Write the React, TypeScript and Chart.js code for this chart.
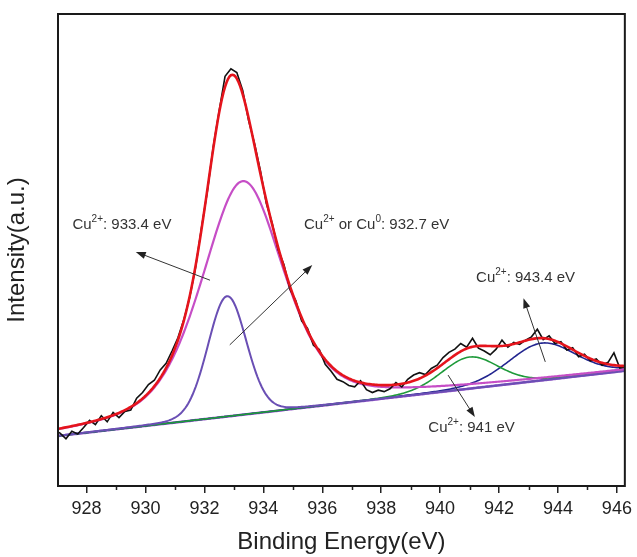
import React, { useEffect, useRef } from "react";
import { Chart, registerables } from "chart.js";

Chart.register(...registerables);

const FONT = "'Liberation Sans', Arial, Helvetica, sans-serif";

// x axis
const xMin = 927.03;
const xMax = 946.27;
const xMajorTicks = [928, 930, 932, 934, 936, 938, 940, 942, 944, 946];
const xMinorTicks = [929, 931, 933, 935, 937, 939, 941, 943, 945];
const yMin = 0;
const yMax = 100;

// measured spectrum (black)
const measuredStart = 926.9;
const measuredStep = 0.2;
const measuredIntensity = [
  11.8, 11.2, 10.0, 11.6, 11.0, 12.4, 13.9, 13.0, 14.9, 13.6,
  15.6, 14.5, 15.8, 16.1, 18.6, 19.8, 21.5, 22.4, 24.6, 26.0,
  28.6, 31.4, 35.2, 40.0, 46.3, 54.7, 62.4, 71.9, 79.5, 86.8,
  88.4, 87.6, 83.8, 77.4, 72.6, 66.8, 59.9, 55.7, 50.1, 46.9,
  41.7, 39.3, 35.0, 33.4, 29.8, 28.9, 25.8, 24.3, 22.6, 22.1,
  21.3, 21.0, 22.3, 20.4, 19.8, 20.3, 20.0, 20.6, 21.9, 21.0,
  22.6, 23.5, 24.0, 23.6, 24.9, 25.6, 27.2, 28.3, 29.0, 30.2,
  29.4, 31.3, 29.2, 28.6, 27.8, 29.0, 30.9, 29.4, 30.4, 30.0,
  30.9, 31.6, 33.2, 31.0, 31.8, 30.2, 30.6, 28.8, 29.3, 27.4,
  27.9, 26.5, 26.9, 25.6, 26.2, 28.2, 25.0, 25.3,
];

// linear background (value at xMin and at xMax)
const backgroundLeft = 10.6;
const backgroundRight = 24.4;

// fitted peak components
const peakNames = ["Cu2+ 933.4 eV", "Cu2+ or Cu0 932.7 eV", "Cu2+ 941 eV", "Cu2+ 943.4 eV"];
const peakCenters = [933.3, 932.77, 941.0, 943.45];
const peakHeights = [49.5, 25.5, 6.7, 7.9];
const peakFwhm = [3.3, 1.55, 2.3, 2.7];
const peakLorentz = [0.45, 0.1, 0.2, 0.2];
const peakColors = ["#c64ec6", "#6a4fb4", "#1e9a3a", "#22258f"];
const backgroundColor = "#9656c8";
const envelopeColor = "#e5141c";

const fitStart = 926.9;
const fitEnd = 946.4;
const fitStep = 0.05;

// annotations (data coordinates)
type Seg = { t: string; sup?: boolean };
const annotations: { segs: Seg[]; x: number; y: number; from: [number, number]; to: [number, number] }[] = [
  { segs: [{ t: "Cu" }, { t: "2+", sup: true }, { t: ": 933.4 eV" }], x: 927.52, y: 55.3, from: [932.19, 43.6], to: [929.67, 49.6] },
  { segs: [{ t: "Cu" }, { t: "2+", sup: true }, { t: " or Cu" }, { t: "0", sup: true }, { t: ": 932.7 eV" }], x: 935.38, y: 55.3, from: [932.86, 29.9], to: [935.66, 46.8] },
  { segs: [{ t: "Cu" }, { t: "2+", sup: true }, { t: ": 943.4 eV" }], x: 941.22, y: 44.1, from: [943.57, 26.3], to: [942.83, 39.8] },
  { segs: [{ t: "Cu" }, { t: "2+", sup: true }, { t: ": 941 eV" }], x: 939.6, y: 12.3, from: [940.27, 23.5], to: [941.18, 14.6] },
];

function background(x: number) {
  return backgroundLeft + ((backgroundRight - backgroundLeft) * (x - xMin)) / (xMax - xMin);
}
function peak(i: number, x: number) {
  const d = x - peakCenters[i];
  const w = peakFwhm[i];
  const g = Math.exp((-4 * Math.LN2 * d * d) / (w * w));
  const l = 1 / (1 + (4 * d * d) / (w * w));
  return peakHeights[i] * ((1 - peakLorentz[i]) * g + peakLorentz[i] * l);
}

const framePlugin = {
  id: "frame",
  afterDraw(chart: any) {
    const { ctx, chartArea } = chart;
    const xs = chart.scales.x;
    ctx.save();
    ctx.strokeStyle = "#222";
    ctx.lineWidth = 1.5;
    ctx.beginPath();
    for (const v of xMinorTicks) {
      const px = Math.round(xs.getPixelForValue(v)) + 0.5;
      ctx.moveTo(px, chartArea.bottom);
      ctx.lineTo(px, chartArea.bottom + 4);
    }
    ctx.stroke();
    ctx.lineWidth = 2;
    ctx.strokeStyle = "#1a1a1a";
    ctx.strokeRect(chartArea.left, chartArea.top, chartArea.right - chartArea.left, chartArea.bottom - chartArea.top);
    ctx.restore();
  },
};

const annotationPlugin = {
  id: "notes",
  afterDatasetsDraw(chart: any) {
    const { ctx } = chart;
    const xs = chart.scales.x;
    const ys = chart.scales.y;
    ctx.save();
    for (const a of annotations) {
      const fx = xs.getPixelForValue(a.from[0]);
      const fy = ys.getPixelForValue(a.from[1]);
      const tx = xs.getPixelForValue(a.to[0]);
      const ty = ys.getPixelForValue(a.to[1]);
      const ang = Math.atan2(ty - fy, tx - fx);
      const head = 10;
      const hw = 3.6;
      ctx.strokeStyle = "#333";
      ctx.fillStyle = "#222";
      ctx.lineWidth = 1;
      ctx.beginPath();
      ctx.moveTo(fx, fy);
      ctx.lineTo(tx - Math.cos(ang) * head * 0.8, ty - Math.sin(ang) * head * 0.8);
      ctx.stroke();
      ctx.beginPath();
      ctx.moveTo(tx, ty);
      ctx.lineTo(tx - Math.cos(ang) * head - Math.sin(ang) * hw, ty - Math.sin(ang) * head + Math.cos(ang) * hw);
      ctx.lineTo(tx - Math.cos(ang) * head + Math.sin(ang) * hw, ty - Math.sin(ang) * head - Math.cos(ang) * hw);
      ctx.closePath();
      ctx.fill();

      let px = xs.getPixelForValue(a.x);
      const py = ys.getPixelForValue(a.y);
      ctx.textBaseline = "middle";
      ctx.textAlign = "left";
      ctx.fillStyle = "#333";
      for (const s of a.segs) {
        if (s.sup) {
          ctx.font = `10px ${FONT}`;
          ctx.fillText(s.t, px, py - 6);
        } else {
          ctx.font = `15px ${FONT}`;
          ctx.fillText(s.t, px, py);
        }
        px += ctx.measureText(s.t).width;
      }
    }
    ctx.restore();
  },
};

export default function App() {
  const ref = useRef<HTMLCanvasElement | null>(null);

  useEffect(() => {
    document.body.style.margin = "0";
    const canvas = ref.current;
    if (!canvas) return;

    const measured = measuredIntensity.map((v, i) => ({ x: measuredStart + i * measuredStep, y: v }));
    const grid: number[] = [];
    for (let x = fitStart; x <= fitEnd + 1e-9; x += fitStep) grid.push(x);
    const bg = grid.map((x) => ({ x, y: background(x) }));
    const comps = peakCenters.map((_, i) => grid.map((x) => ({ x, y: background(x) + peak(i, x) })));
    const envelope = grid.map((x) => {
      let s = background(x);
      for (let i = 0; i < peakCenters.length; i++) s += peak(i, x);
      return { x, y: s };
    });

    const line = (label: string, data: any[], color: string, width: number, order: number) => ({
      label,
      data,
      borderColor: color,
      backgroundColor: color,
      borderWidth: width,
      pointRadius: 0,
      tension: 0,
      fill: false,
      order,
    });

    const chart = new Chart(canvas, {
      type: "line",
      data: {
        datasets: [
          line("Envelope", envelope, envelopeColor, 2.6, 0),
          line("Measured", measured, "#111111", 1.6, 1),
          line("Background", bg, backgroundColor, 2.6, 3),
          line(peakNames[0], comps[0], peakColors[0], 2.2, 2),
          line(peakNames[1], comps[1], peakColors[1], 2.0, 2),
          line(peakNames[2], comps[2], peakColors[2], 1.6, 2),
          line(peakNames[3], comps[3], peakColors[3], 1.6, 2),
        ],
      },
      options: {
        animation: false,
        responsive: false,
        maintainAspectRatio: false,
        layout: { padding: { left: 0, right: 7, top: 14, bottom: 0 } },
        plugins: { legend: { display: false }, tooltip: { enabled: false } },
        scales: {
          x: {
            type: "linear",
            min: xMin,
            max: xMax,
            afterBuildTicks: (s: any) => {
              s.ticks = xMajorTicks.map((v) => ({ value: v }));
            },
            afterFit: (s: any) => {
              s.height = 71;
            },
            grid: { display: true, drawOnChartArea: false, drawTicks: true, tickLength: 7, color: "#222", lineWidth: 1.5 },
            border: { display: false },
            ticks: {
              autoSkip: false,
              maxRotation: 0,
              padding: 5,
              color: "#222",
              font: { family: FONT, size: 18 },
              callback: (v: any) => String(v),
            },
            title: {
              display: true,
              text: "Binding Energy(eV)",
              color: "#222",
              font: { family: FONT, size: 24 },
              padding: { top: 0, bottom: 0 },
            },
          },
          y: {
            type: "linear",
            min: yMin,
            max: yMax,
            afterFit: (s: any) => {
              s.width = 58;
            },
            grid: { display: false },
            border: { display: false },
            ticks: { display: false },
            title: {
              display: true,
              text: "Intensity(a.u.)",
              color: "#222",
              font: { family: FONT, size: 24 },
              padding: { top: 3, bottom: 0 },
            },
          },
        },
      },
      plugins: [framePlugin, annotationPlugin],
    } as any);

    return () => chart.destroy();
  }, []);

  return (
    <div style={{ width: 637, height: 557, position: "relative" }}>
      <canvas ref={ref} width={637} height={557} style={{ display: "block" }} />
    </div>
  );
}
